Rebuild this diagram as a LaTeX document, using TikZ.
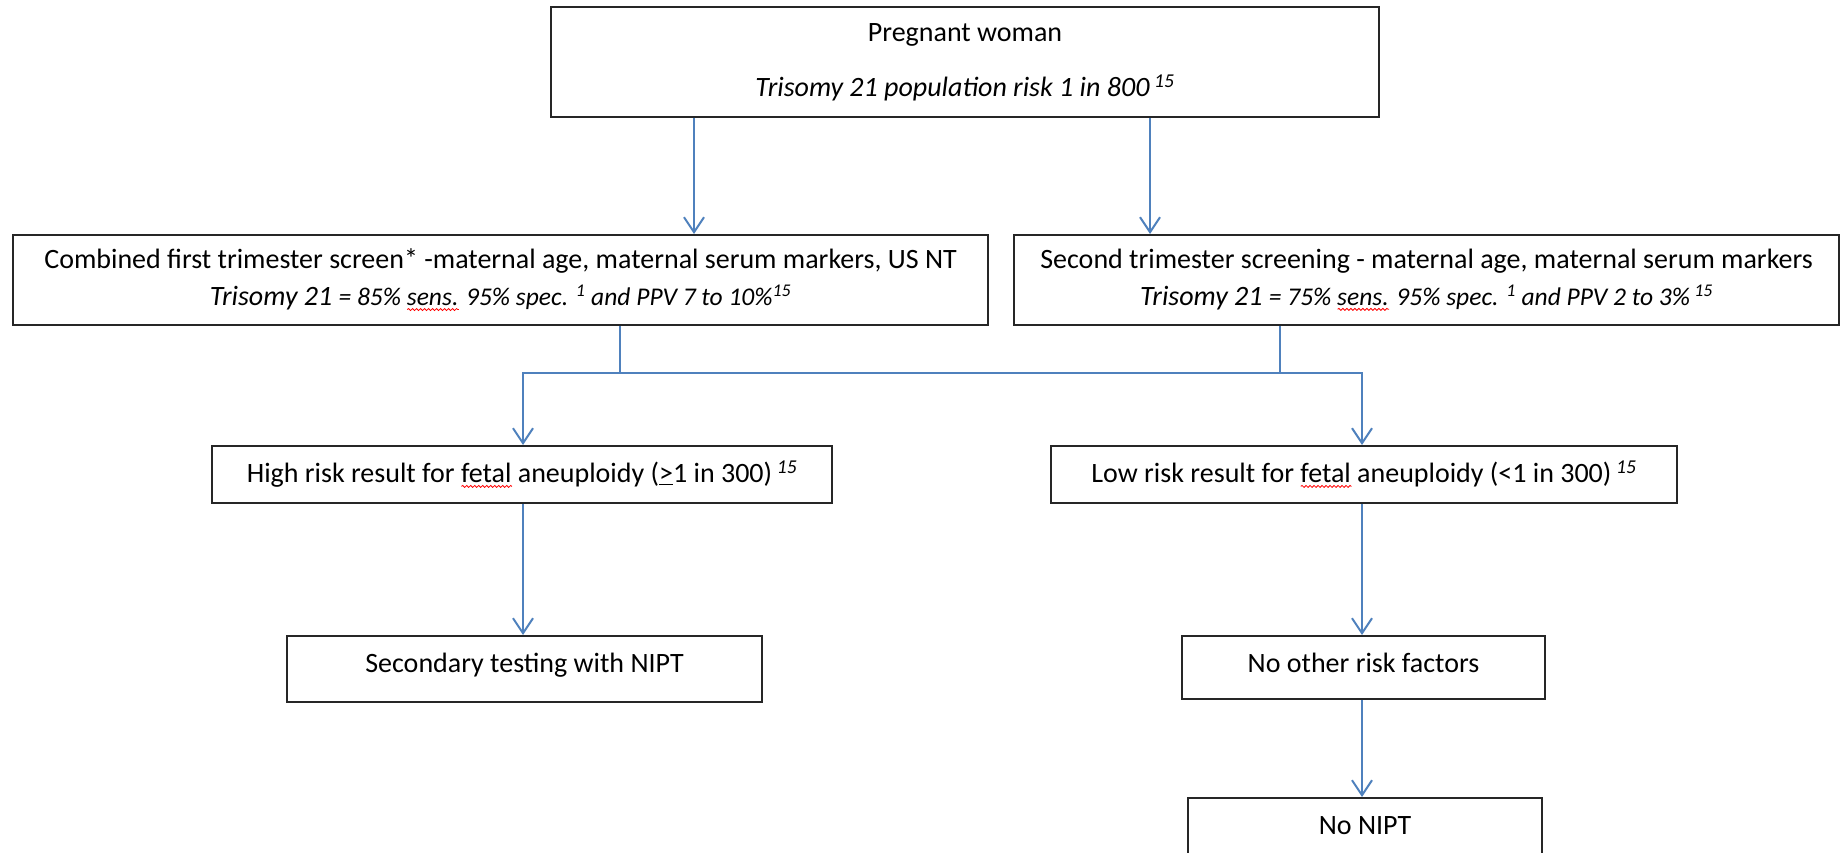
\documentclass[tikz,border=0pt]{standalone}
\usepackage{fontspec}
\setmainfont{Carlito}
\usetikzlibrary{arrows.meta,decorations.pathmorphing}
\definecolor{connblue}{RGB}{79,129,189}
\newsavebox\spbox
\newcommand\spellerr[1]{\sbox\spbox{#1}\rlap{\raisebox{-5pt}{\tikz\draw[red,line width=0.8pt,decorate,decoration={snake,amplitude=1pt,segment length=4pt}] (0pt,0pt) -- (\wd\spbox,0pt);}}#1}
\begin{document}
\begin{tikzpicture}[x=1pt,y=-1pt,
  bx/.style={draw=black!85,line width=2pt,inner sep=0pt,align=center,font=\fontsize{28}{37}\selectfont},
  conn/.style={draw=connblue,line width=2pt},
  arr/.style={conn,-{Straight Barb[length=15pt,width=20pt]}}]
\clip (0,0) rectangle (1845,853);
\fill[white] (0,0) rectangle (1845,853);

\node[bx,minimum width=828pt,minimum height=110pt] (top) at (965,62)
  {Pregnant woman\\[18pt]\textit{Trisomy 21 population risk 1 in 800\,\textsuperscript{15}}};
\node[bx,minimum width=975pt,minimum height=90pt] (L1) at (500.5,280)
  {Combined first trimester screen* -maternal age, maternal serum markers, US NT\\
   {\itshape Trisomy 21 {\fontsize{25.5}{30}\selectfont = 85\% \spellerr{sens.} 95\% spec. \textsuperscript{1} and PPV 7 to 10\%\textsuperscript{15}}}};
\node[bx,minimum width=825pt,minimum height=90pt] (R1) at (1426.5,280)
  {Second trimester screening - maternal age, maternal serum markers\\
   {\itshape Trisomy 21 {\fontsize{25.5}{30}\selectfont = 75\% \spellerr{sens.} 95\% spec. \textsuperscript{1} and PPV 2 to 3\%\,\textsuperscript{15}}}};
\node[bx,minimum width=620pt,minimum height=57pt] (high) at (522,474.5)
  {High risk result for \spellerr{fetal} aneuploidy (\underline{>}1 in 300)\,\textsuperscript{\itshape 15}};
\node[bx,minimum width=626pt,minimum height=57pt] (low) at (1364,474.5)
  {Low risk result for \spellerr{fetal} aneuploidy (<1 in 300)\,\textsuperscript{\itshape 15}};
\node[bx,minimum width=475pt,minimum height=66pt] (sec) at (524.5,669)
  {\raisebox{13pt}{Secondary testing with NIPT}};
\node[bx,minimum width=363pt,minimum height=63pt] (other) at (1363.5,667.5)
  {\raisebox{10pt}{No other risk factors}};
\node[bx,minimum width=354pt,minimum height=64pt] (nonipt) at (1365,830)
  {\raisebox{9pt}{No NIPT}};

\coordinate (ta) at (694,0);
\coordinate (tb) at (1150,0);
\coordinate (sl) at (620,373);
\coordinate (sr) at (1280,373);
\coordinate (jl) at (523,373);
\coordinate (jr) at (1362,373);
\draw[arr] (top.south -| ta) -- (L1.north -| ta);
\draw[arr] (top.south -| tb) -- (R1.north -| tb);
\draw[conn] (L1.south -| sl) -- (sl);
\draw[conn] (R1.south -| sr) -- (sr);
\draw[arr] (sl) -- (jl) -- (high.north -| jl);
\draw[arr] (sl) -- (jr) -- (low.north -| jr);
\draw[arr] (high.south -| jl) -- (sec.north -| jl);
\draw[arr] (low.south -| jr) -- (other.north -| jr);
\draw[arr] (other.south -| jr) -- (nonipt.north -| jr);
\end{tikzpicture}
\end{document}
